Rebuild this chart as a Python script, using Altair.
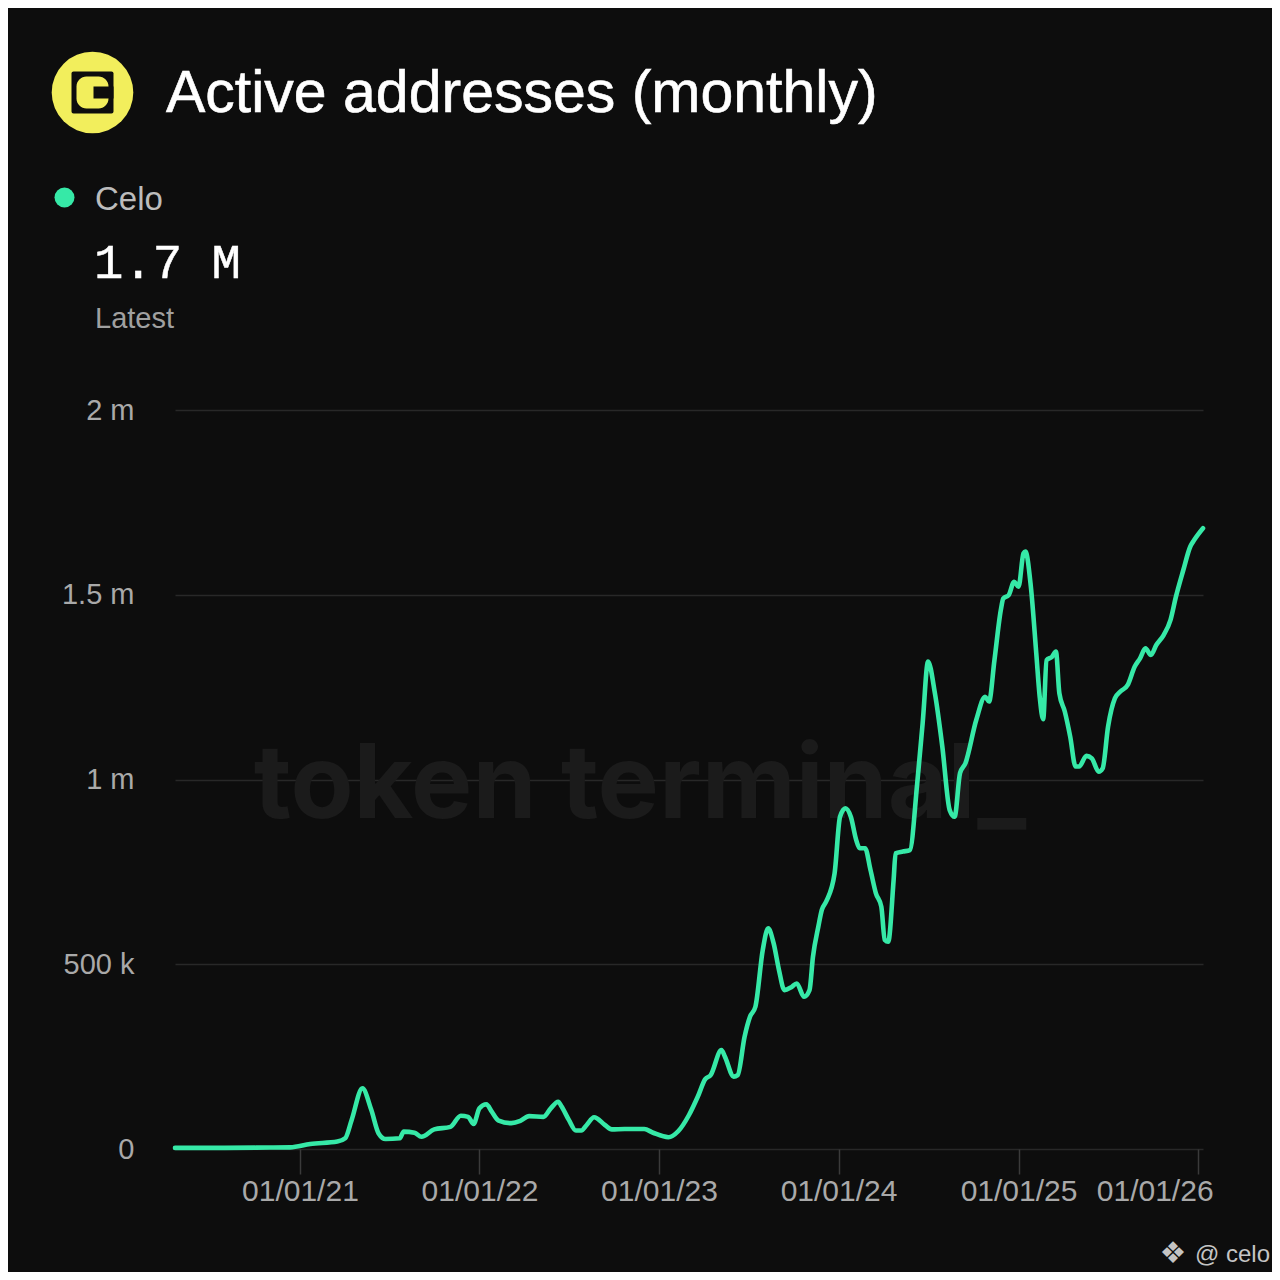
import altair as alt
import pandas as pd

# ---- data ----
dates = [
    "2020-04-22", "2020-08-01", "2020-11-01", "2020-12-12", "2021-01-22", "2021-03-18",
    "2021-04-03", "2021-04-16", "2021-05-08", "2021-05-26", "2021-06-10", "2021-06-24",
    "2021-07-23", "2021-07-31", "2021-08-22", "2021-09-05", "2021-10-01", "2021-11-03",
    "2021-11-24", "2021-12-09", "2021-12-20", "2022-01-01", "2022-01-15", "2022-01-26",
    "2022-02-09", "2022-03-07", "2022-03-25", "2022-04-12", "2022-05-11", "2022-05-26",
    "2022-06-10", "2022-06-17", "2022-07-02", "2022-07-16", "2022-07-27", "2022-08-07",
    "2022-08-22", "2022-09-13", "2022-09-27", "2022-10-23", "2022-12-02", "2022-12-20",
    "2023-01-20", "2023-02-09", "2023-03-03", "2023-03-21", "2023-04-05", "2023-04-16",
    "2023-05-08", "2023-05-15", "2023-06-02", "2023-06-10", "2023-06-24", "2023-07-05",
    "2023-07-16", "2023-07-31", "2023-08-11", "2023-08-22", "2023-09-02", "2023-09-13",
    "2023-09-27", "2023-10-08", "2023-10-23", "2023-11-03", "2023-11-10", "2023-11-21",
    "2023-11-28", "2023-12-07", "2023-12-24", "2024-01-04", "2024-01-15", "2024-01-26",
    "2024-02-06", "2024-02-13", "2024-02-24", "2024-03-06", "2024-03-17", "2024-03-28",
    "2024-04-04", "2024-04-11", "2024-04-22", "2024-04-26", "2024-05-11", "2024-05-25",
    "2024-06-09", "2024-06-20", "2024-07-01", "2024-07-15", "2024-07-30", "2024-08-14",
    "2024-08-24", "2024-09-04", "2024-09-15", "2024-10-07", "2024-10-25", "2024-11-02",
    "2024-11-13", "2024-11-26", "2024-12-01", "2024-12-12", "2024-12-23", "2025-01-01",
    "2025-01-11", "2025-01-15", "2025-01-26", "2025-02-06", "2025-02-13", "2025-02-20",
    "2025-02-27", "2025-03-10", "2025-03-18", "2025-03-25", "2025-04-05", "2025-04-16",
    "2025-04-27", "2025-05-04", "2025-05-19", "2025-05-30", "2025-06-13", "2025-06-21",
    "2025-07-02", "2025-07-16", "2025-07-27", "2025-08-11", "2025-08-25", "2025-09-05",
    "2025-09-16", "2025-09-27", "2025-10-08", "2025-10-23", "2025-11-06", "2025-11-17",
    "2025-12-02", "2025-12-16", "2025-12-24", "2026-01-11",
]
values_k = [
    3, 3, 4, 4.5, 13.5, 20,
    29, 78, 164, 106, 42, 27,
    29, 47, 44, 33, 53, 60,
    90, 87, 68, 110, 121, 101,
    77, 70, 76, 89, 87, 110,
    128, 115, 78, 50, 50, 65,
    86, 65, 53, 54, 54, 44,
    32, 48, 92, 142, 189, 200,
    268, 250, 196, 200, 304, 358,
    385, 539, 597, 557, 484, 430,
    438, 448, 412, 430, 520, 602,
    647, 670, 746, 899, 922, 899,
    836, 814, 814, 755, 692, 656,
    566, 561, 728, 800, 805, 809,
    990, 1152, 1319, 1233, 1089, 917,
    899, 1017, 1044, 1161, 1224, 1211,
    1323, 1459, 1490, 1499, 1535, 1522,
    1612, 1617, 1522, 1342, 1224, 1163,
    1323, 1332, 1346, 1233, 1184, 1116,
    1035, 1035, 1064, 1057, 1021, 1030,
    1143, 1220, 1238, 1256, 1305, 1328,
    1355, 1337, 1364, 1391, 1432, 1495,
    1567, 1630, 1648, 1680,
]
y_ticks = [0, 500000, 1000000, 1500000, 2000000]
x_tick_years = [2021, 2022, 2023, 2024, 2025, 2026]

title_text = "Active addresses (monthly)"
series_name = "Celo"
latest_text = "1.7 M"
latest_label = "Latest"
watermark_text = "token terminal_"
credit_icon = "\u2756"
credit_text = "@ celo"

df = pd.DataFrame({"date": dates, "value": [v * 1000 for v in values_k]})
one = pd.DataFrame({"a": [0]})

BG = "#0d0d0d"
GREEN = "#36e9a7"
YELLOW = "#f2ee5c"
SANS = "Liberation Sans"

watermark = alt.Chart(one).mark_text(
    text=watermark_text, font="Inter", fontSize=103, fontWeight="bold",
    color="#1b1b1b", align="center", baseline="alphabetic"
).encode(x=alt.value(465), y=alt.value(408))

line = alt.Chart(df).mark_line(
    color=GREEN, strokeWidth=4.6, interpolate="monotone", strokeJoin="round", strokeCap="round"
).encode(
    x=alt.X(
        "date:T", title=None, scale=alt.Scale(nice=False),
        axis=alt.Axis(
            values=[alt.DateTime(year=y, month=1, date=1) for y in x_tick_years],
            format="%d/%m/%y", grid=False, domain=False,
            tickSize=25, tickColor="#3a3a3a", tickWidth=1.5,
            labelPadding=2, labelFontSize=30, labelColor="#a9a9a9", labelFont=SANS,
            labelOverlap=False, labelFlush=20, labelFlushOffset=15,
        ),
    ),
    y=alt.Y(
        "value:Q", title=None, scale=alt.Scale(domain=[0, 2000000], nice=False),
        axis=alt.Axis(
            values=y_ticks, domain=False, ticks=False,
            gridColor="#282828", gridWidth=1.5,
            labelPadding=41, labelFontSize=29, labelColor="#a9a9a9", labelFont=SANS,
            labelExpr="datum.value == 0 ? '0' : (datum.value >= 1000000 ? (datum.value / 1000000) + ' m' : (datum.value / 1000) + ' k')",
        ),
    ),
)

# logo (centre at page 92.5, 92.5)
LX, LY = -82.5, -317.5
logo_circle = alt.Chart(one).mark_point(
    shape="circle", filled=True, color=YELLOW, size=6660, opacity=1
).encode(x=alt.value(LX), y=alt.value(LY))
logo_square = alt.Chart(one).mark_rect(color="#0d0d0d", cornerRadius=2).encode(
    x=alt.value(-103.5), x2=alt.value(-61.5), y=alt.value(-338.5), y2=alt.value(-296.5)
)
logo_inner = alt.Chart(one).mark_rect(color=YELLOW, cornerRadius=10).encode(
    x=alt.value(-98.5), x2=alt.value(-66.5), y=alt.value(-333.5), y2=alt.value(-301.5)
)
logo_notch = alt.Chart(one).mark_rect(color="#0d0d0d").encode(
    x=alt.value(-81.5), x2=alt.value(-61.5), y=alt.value(-323.5), y2=alt.value(-311.5)
)

title = alt.Chart(one).mark_text(
    text=title_text, font=SANS, fontSize=59, color="#ffffff",
    stroke="#ffffff", strokeWidth=0.6, align="left", baseline="alphabetic"
).encode(x=alt.value(-9), y=alt.value(-298.5))

dot = alt.Chart(one).mark_point(
    shape="circle", filled=True, color=GREEN, size=400, opacity=1
).encode(x=alt.value(-110.5), y=alt.value(-212.5))
celo = alt.Chart(one).mark_text(
    text=series_name, font=SANS, fontSize=33, color="#bcbcbc", align="left", baseline="alphabetic"
).encode(x=alt.value(-80), y=alt.value(-200))
latest = alt.Chart(one).mark_text(
    text=latest_text, font="Liberation Mono", fontSize=49, color="#ffffff",
    stroke="#ffffff", strokeWidth=0.5, align="left", baseline="alphabetic"
).encode(x=alt.value(-81), y=alt.value(-132))
latest_lbl = alt.Chart(one).mark_text(
    text=latest_label, font=SANS, fontSize=29, color="#a0a0a0", align="left", baseline="alphabetic"
).encode(x=alt.value(-80), y=alt.value(-82.5))
credit_i = alt.Chart(one).mark_text(
    text=credit_icon, font="DejaVu Sans", fontSize=30, color="#c4c4c4", align="center", baseline="middle"
).encode(x=alt.value(998), y=alt.value(844))
credit = alt.Chart(one).mark_text(
    text=credit_text, font=SANS, fontSize=24, color="#c4c4c4", align="right", baseline="alphabetic"
).encode(x=alt.value(1095), y=alt.value(852))

chart = alt.layer(
    watermark, line, logo_circle, logo_square, logo_inner, logo_notch,
    title, dot, celo, latest, latest_lbl, credit_i, credit
).properties(
    width=1028, height=739,
    autosize=alt.AutoSizeParams(type="none"),
    padding={"left": 167, "top": 402, "right": 69, "bottom": 123},
    background=BG,
).configure_view(stroke=None)

chart.save("out.html", embed_options={"renderer": "svg", "actions": False})
